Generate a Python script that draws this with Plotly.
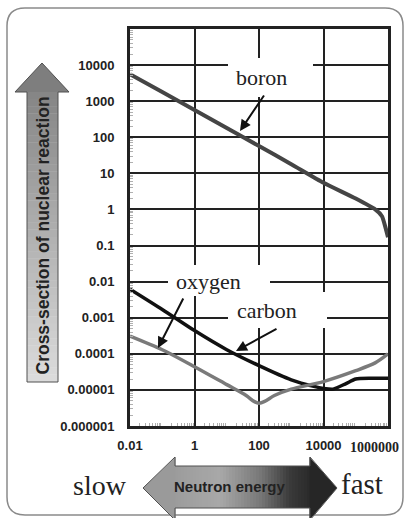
import plotly.graph_objects as go

# ---------------- data ----------------
x_tickvals = [0.01, 1, 100, 10000]
x_ticktext = ["0.01", "1", "100", "10000"]
x_last_label = "1000000"
y_tickvals = [1e4, 1e3, 1e2, 10, 1, 0.1, 0.01, 0.001, 1e-4, 1e-5, 1e-6]
y_ticktext = ["10000", "1000", "100", "10", "1", "0.1", "0.01", "0.001",
              "0.0001", "0.00001", "0.000001"]

boron_E = [0.01, 0.1, 1, 10, 100, 1000, 1e4, 1e5, 4e5, 6.5e5, 8.5e5, 1e6]
boron_s = [5600, 1800, 570, 180, 57, 18, 5.5, 2.0, 1.0, 0.65, 0.3, 0.17]

carbon_E = [0.01, 0.1, 1, 10, 100, 1000, 5000, 1e4, 2e4, 5e4, 1e5, 3e5, 1e6]
carbon_s = [0.0062, 0.0017, 4.4e-4, 1.3e-4, 4.7e-5, 1.9e-5, 1.25e-5, 1.1e-5,
            1.05e-5, 1.5e-5, 2.0e-5, 2.1e-5, 2.1e-5]

oxygen_E = [0.01, 0.1, 1, 10, 40, 70, 100, 150, 300, 1000, 1e4, 1e5, 4e5, 1e6]
oxygen_s = [3.1e-4, 1.3e-4, 4.4e-5, 1.4e-5, 7.0e-6, 4.8e-6, 4.3e-6, 4.8e-6, 7e-6,
            1.05e-5, 1.7e-5, 3.4e-5, 5.6e-5, 1e-4]

# ---------------- layout geometry ----------------
W, H = 406, 518
L, R, T, B = 130, 18, 29, 92
PW, PH = W - L - R, H - T - B


def fx(x):
    return (x - L) / PW


def fy(y):
    return (H - B - y) / PH


SANS = "Liberation Sans"
SERIF = "Liberation Serif"

fig = go.Figure()
fig.add_trace(go.Scatter(x=boron_E, y=boron_s, mode="lines",
                         line=dict(color="#454545", width=4, shape="spline", smoothing=0.5),
                         hoverinfo="skip"))
fig.add_trace(go.Scatter(x=carbon_E, y=carbon_s, mode="lines",
                         line=dict(color="#111111", width=3.5, shape="spline", smoothing=0.6),
                         hoverinfo="skip"))
fig.add_trace(go.Scatter(x=oxygen_E, y=oxygen_s, mode="lines",
                         line=dict(color="#7a7a7a", width=3.5, shape="spline", smoothing=0.8),
                         hoverinfo="skip"))

shapes = []

# outer rounded frame
x0, y0, x1, y1, r = 7, 8, 403, 515, 18
frame = (f"M {fx(x0+r)},{fy(y0)} L {fx(x1-r)},{fy(y0)} Q {fx(x1)},{fy(y0)} {fx(x1)},{fy(y0+r)} "
         f"L {fx(x1)},{fy(y1-r)} Q {fx(x1)},{fy(y1)} {fx(x1-r)},{fy(y1)} "
         f"L {fx(x0+r)},{fy(y1)} Q {fx(x0)},{fy(y1)} {fx(x0)},{fy(y1-r)} "
         f"L {fx(x0)},{fy(y0+r)} Q {fx(x0)},{fy(y0)} {fx(x0+r)},{fy(y0)} Z")
shapes.append(dict(type="path", xref="paper", yref="paper", path=frame,
                   line=dict(color="#8a8a8a", width=1.5), layer="below"))

# white boxes behind labels (hide grid)
for bx0, by0, bx1, by1 in [(228, 58, 313, 97), (168, 265, 270, 296), (228, 292, 327, 328)]:
    shapes.append(dict(type="rect", xref="paper", yref="paper",
                       x0=fx(bx0), x1=fx(bx1), y0=fy(by1), y1=fy(by0),
                       fillcolor="white", line=dict(width=0), layer="above"))


def gray(v):
    v = int(round(v))
    return f"rgb({v},{v},{v})"


def path_of(pts):
    s = "M " + " L ".join(f"{fx(a)},{fy(b)}" for a, b in pts) + " Z"
    return s


# vertical arrow (gradient shaft)
N = 40
sy0, sy1 = 92, 382
for i in range(N):
    ya = sy0 + (sy1 - sy0) * i / N
    yb = sy0 + (sy1 - sy0) * (i + 1) / N
    t = (i + 0.5) / N
    shapes.append(dict(type="rect", xref="paper", yref="paper",
                       x0=fx(27), x1=fx(58), y0=fy(yb), y1=fy(ya) + 0.001,
                       fillcolor=gray(0x85 + (0xdc - 0x85) * t), line=dict(width=0)))
shapes.append(dict(type="path", xref="paper", yref="paper",
                   path=path_of([(15, 92), (42, 63), (69, 92)]),
                   fillcolor="#7e7e7e", line=dict(width=0)))
shapes.append(dict(type="path", xref="paper", yref="paper",
                   path=path_of([(27, 382), (27, 92), (15, 92), (42, 63), (69, 92), (58, 92), (58, 382)]),
                   line=dict(color="#505050", width=1)))

# horizontal arrow (gradient shaft)
stops = [(175, 0x9c), (220, 0xa8), (260, 0x78), (290, 0x3a), (310, 0x2a)]


def hcol(x):
    for (xa, ca), (xb, cb) in zip(stops[:-1], stops[1:]):
        if xa <= x <= xb:
            return ca + (cb - ca) * (x - xa) / (xb - xa)
    return stops[-1][1]


M = 45
hx0, hx1 = 175, 310
for i in range(M):
    xa = hx0 + (hx1 - hx0) * i / M
    xb = hx0 + (hx1 - hx0) * (i + 1) / M
    shapes.append(dict(type="rect", xref="paper", yref="paper",
                       x0=fx(xa), x1=fx(xb) + 0.002, y0=fy(508), y1=fy(466),
                       fillcolor=gray(hcol((xa + xb) / 2)), line=dict(width=0)))
shapes.append(dict(type="path", xref="paper", yref="paper",
                   path=path_of([(143, 488), (175.5, 457), (175.5, 520)]),
                   fillcolor="#9a9a9a", line=dict(width=0)))
shapes.append(dict(type="path", xref="paper", yref="paper",
                   path=path_of([(309.5, 457), (337, 488), (309.5, 520)]),
                   fillcolor="#262626", line=dict(width=0)))
shapes.append(dict(type="path", xref="paper", yref="paper",
                   path=path_of([(143, 488), (175, 457), (175, 466), (310, 466), (310, 457),
                                 (337, 488), (310, 520), (310, 508), (175, 508), (175, 520)]),
                   line=dict(color="#505050", width=1)))

annotations = []


def text(x, y, s, size, family, bold=False, angle=0, color="#222222"):
    annotations.append(dict(x=fx(x), y=fy(y), xref="paper", yref="paper", text=s,
                            showarrow=False, xanchor="center", yanchor="middle",
                            textangle=angle,
                            font=dict(size=size, family=family, color=color,
                                      weight="bold" if bold else "normal")))


def arrow(tx, ty, sx, sy):
    annotations.append(dict(x=fx(tx), y=fy(ty), xref="paper", yref="paper", text="",
                            showarrow=True, ax=sx - tx, ay=sy - ty,
                            arrowhead=2, arrowsize=1.1, arrowwidth=2,
                            arrowcolor="#111111", standoff=0))


text(261, 77, "boron", 22, SERIF)
text(208, 281, "oxygen", 22, SERIF)
text(267, 310, "carbon", 22, SERIF)
arrow(240, 131, 265, 94)
arrow(158, 348, 184, 297)
arrow(236, 351, 278, 328)

text(42.5, 236, "Cross-section of nuclear reaction", 17.5, SANS, bold=True, angle=-90)
text(230, 487, "Neutron energy", 15, SANS, bold=True)
text(100, 485, "slow", 28, SERIF)
text(362, 484, "fast", 29, SERIF)
text(374, 447, x_last_label, 14, SERIF, bold=True)

minor_x = [m * 10.0 ** k for k in range(-2, 6) for m in range(2, 10)]
minor_y = [m * 10.0 ** k for k in range(-6, 5) for m in range(2, 10)]

axis_common = dict(showline=True, mirror=True, linecolor="#222222", linewidth=3,
                   showgrid=True, gridcolor="#222222", gridwidth=1.5,
                   zeroline=False, ticks="", tickmode="array",
                   tickfont=dict(family=SANS, size=13, color="#222222", weight="bold"))

fig.update_layout(
    width=W, height=H,
    margin=dict(l=L, r=R, t=T, b=B, pad=0),
    paper_bgcolor="white", plot_bgcolor="white",
    showlegend=False,
    xaxis=dict(type="log", range=[-2, 6], tickvals=x_tickvals, ticktext=x_ticktext,
               ticklabelstandoff=5,
               minor=dict(tickmode="array", tickvals=minor_x, ticks="inside",
                          ticklen=3, tickcolor="#b0b0b0", showgrid=False),
               **axis_common),
    yaxis=dict(type="log", range=[-6, 5], tickvals=y_tickvals, ticktext=y_ticktext,
               ticklabelstandoff=10,
               minor=dict(tickmode="array", tickvals=minor_y, ticks="inside",
                          ticklen=3, tickcolor="#b0b0b0", showgrid=False),
               **axis_common),
    shapes=shapes,
    annotations=annotations,
)

fig.write_html("out.html")
